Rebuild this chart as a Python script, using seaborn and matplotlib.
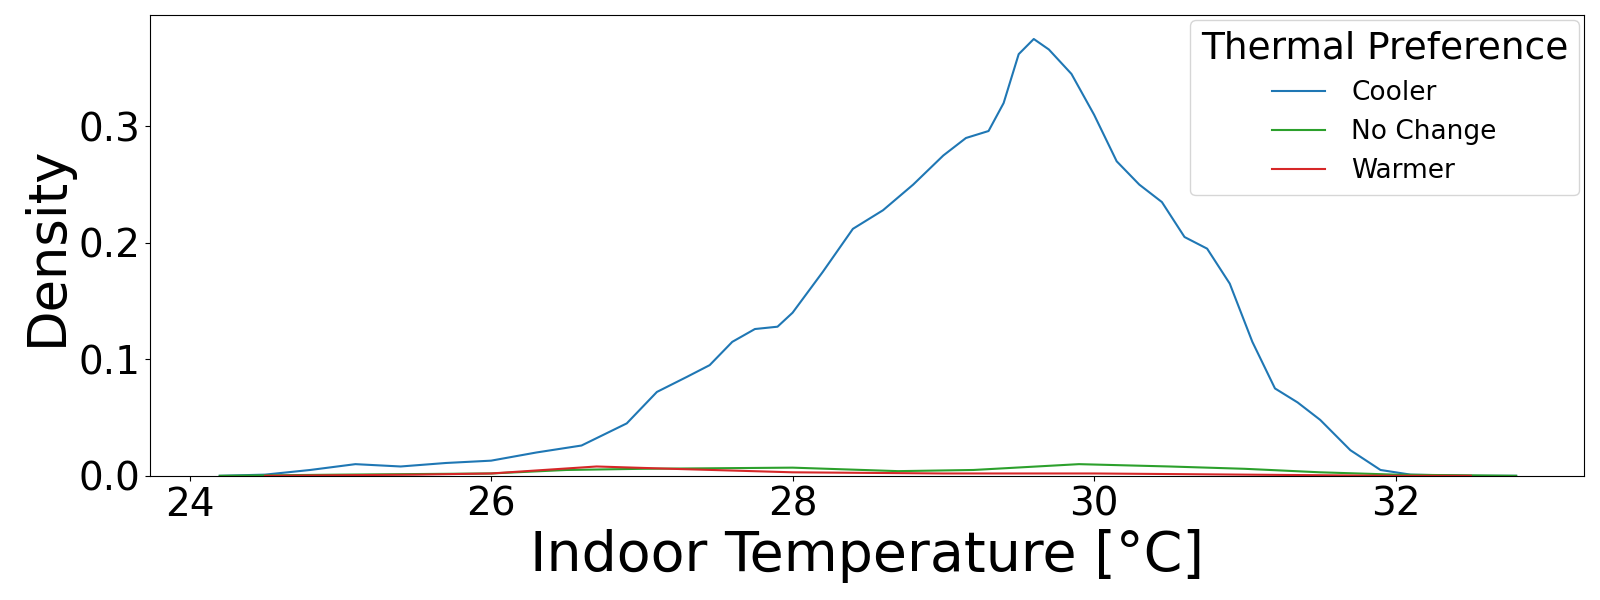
import matplotlib
matplotlib.use("Agg")
import matplotlib.pyplot as plt
import pandas as pd
import seaborn as sns

# Density curves (x in degC, y density)
cooler_x = [24.2, 24.5, 24.8, 25.1, 25.4, 25.7, 26.0, 26.3, 26.6, 26.9, 27.1, 27.3,
            27.45, 27.6, 27.75, 27.9, 28.0, 28.2, 28.4, 28.6, 28.8, 29.0, 29.15,
            29.3, 29.4, 29.5, 29.6, 29.7, 29.85, 30.0, 30.15, 30.3, 30.45, 30.6,
            30.75, 30.9, 31.05, 31.2, 31.35, 31.5, 31.7, 31.9, 32.1, 32.5, 32.8]
cooler_y = [0.0, 0.001, 0.005, 0.010, 0.008, 0.011, 0.013, 0.020, 0.026, 0.045,
            0.072, 0.085, 0.095, 0.115, 0.126, 0.128, 0.140, 0.175, 0.212, 0.228,
            0.250, 0.275, 0.290, 0.296, 0.320, 0.362, 0.375, 0.366, 0.345, 0.310,
            0.270, 0.250, 0.235, 0.205, 0.195, 0.165, 0.115, 0.075, 0.063, 0.048,
            0.022, 0.005, 0.001, 0.0, 0.0]

nochange_x = [24.2, 25.0, 26.0, 26.5, 27.0, 28.0, 28.7, 29.2, 29.9, 30.5, 31.0, 31.5, 32.0, 32.8]
nochange_y = [0.0, 0.001, 0.002, 0.005, 0.006, 0.007, 0.004, 0.005, 0.010, 0.008, 0.006, 0.003, 0.001, 0.0]

warmer_x = [24.5, 25.5, 26.0, 26.7, 27.2, 28.0, 29.0, 30.0, 31.0, 32.0, 32.5]
warmer_y = [0.0, 0.001, 0.002, 0.008, 0.006, 0.003, 0.002, 0.002, 0.001, 0.0, 0.0]

labels = ["Cooler", "No Change", "Warmer"]
colors = ["tab:blue", "tab:green", "tab:red"]

frames = []
for lab, xs, ys in zip(labels, [cooler_x, nochange_x, warmer_x],
                       [cooler_y, nochange_y, warmer_y]):
    frames.append(pd.DataFrame({"temp": xs, "density": ys, "pref": lab}))
df = pd.concat(frames, ignore_index=True)

fig, ax = plt.subplots(figsize=(16, 6), dpi=100)
sns.lineplot(data=df, x="temp", y="density", hue="pref", hue_order=labels,
             palette=colors, ax=ax, linewidth=1.5)

ax.set_xlim(23.74, 33.25)
ax.set_ylim(0, 0.3956)
ax.set_xticks([24, 26, 28, 30, 32])
ax.set_yticks([0.0, 0.1, 0.2, 0.3])
ax.tick_params(labelsize=28)
ax.set_xlabel("Indoor Temperature [°C]", fontsize=40)
ax.set_ylabel("Density", fontsize=38)
ax.legend(title="Thermal Preference", fontsize=19, title_fontsize=27,
          loc="upper right", borderaxespad=0.2, handletextpad=1.0)

fig.subplots_adjust(left=0.094, right=0.99, top=0.975, bottom=0.207)
fig.savefig("out.png")
